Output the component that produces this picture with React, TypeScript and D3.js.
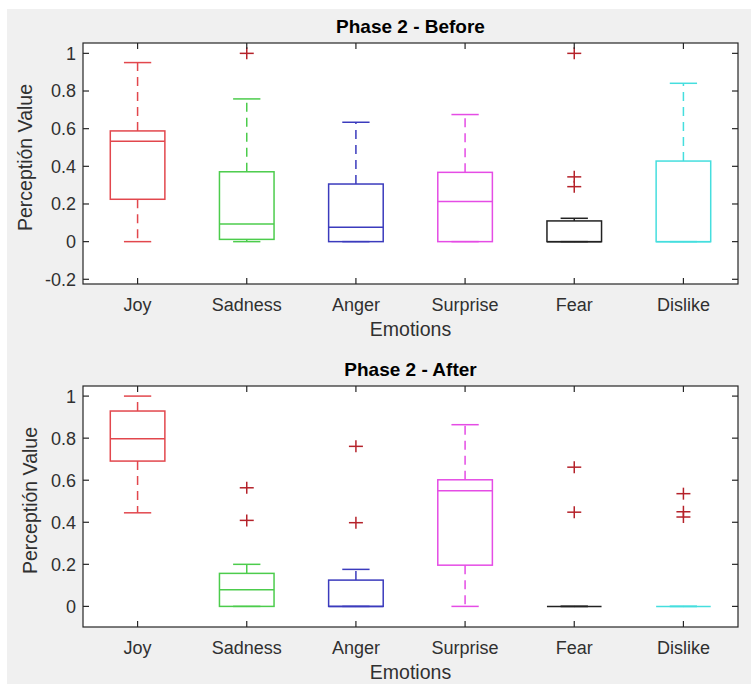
import React from 'react';
import * as d3 from 'd3';

const categories = ['Joy', 'Sadness', 'Anger', 'Surprise', 'Fear', 'Dislike'];
const boxColors = ['#e2474d', '#4ccc4c', '#3b3bbd', '#e54ce5', '#222222', '#45dede'];
const outlierColor = '#b5222a';

// Phase 2 - Before
const beforeLower = [0, 0, 0, 0, 0, 0];
const beforeQ1 = [0.225, 0.012, 0, 0, 0, 0];
const beforeMedian = [0.533, 0.094, 0.076, 0.213, 0, 0];
const beforeQ3 = [0.588, 0.371, 0.306, 0.368, 0.11, 0.428];
const beforeUpper = [0.951, 0.758, 0.634, 0.675, 0.124, 0.841];
const beforeOutliers = [[], [1.0], [], [], [1.0, 0.344, 0.292], []];
const beforeTicks = [-0.2, 0, 0.2, 0.4, 0.6, 0.8, 1];

// Phase 2 - After
const afterLower = [0.445, 0, 0, 0, 0, 0];
const afterQ1 = [0.691, 0, 0, 0.196, 0, 0];
const afterMedian = [0.797, 0.079, 0, 0.55, 0, 0];
const afterQ3 = [0.929, 0.157, 0.125, 0.602, 0, 0];
const afterUpper = [1.0, 0.2, 0.176, 0.864, 0, 0];
const afterOutliers = [[], [0.564, 0.409], [0.761, 0.398], [], [0.662, 0.448], [0.536, 0.45, 0.425]];
const afterTicks = [0, 0.2, 0.4, 0.6, 0.8, 1];

const FONT = '"Liberation Sans", Arial, Helvetica, sans-serif';
const AXIS = '#262626';
const TEXT = '#303030';

type PanelProps = {
  title: string;
  top: number;
  bottom: number;
  yDomain: [number, number];
  ticks: number[];
  lower: number[];
  q1: number[];
  median: number[];
  q3: number[];
  upper: number[];
  outliers: number[][];
  ylabelX: number;
};

function fmt(v: number): string {
  if (Math.abs(v) < 1e-9) return '0';
  const s = String(+v.toFixed(1));
  return s.replace('\u2212', '-');
}

function Panel(p: PanelProps) {
  const left = 83;
  const right = 738;
  const x = d3.scaleLinear().domain([0.5, categories.length + 0.5]).range([left, right]);
  const y = d3.scaleLinear().domain(p.yDomain).range([p.bottom, p.top]);
  const unit = x(2) - x(1);
  const boxHalf = unit * 0.25;
  const capHalf = unit * 0.125;
  const tickLen = 6;
  return (
    <g>
      <rect x={left} y={p.top} width={right - left} height={p.bottom - p.top} fill="#ffffff" />
      {categories.map((c, i) => {
        const cx = x(i + 1);
        const col = boxColors[i];
        return (
          <g key={c} stroke={col} strokeWidth={1.5} fill="none">
            <line x1={cx} x2={cx} y1={y(p.q3[i])} y2={y(p.upper[i])} strokeDasharray="9,6" />
            <line x1={cx} x2={cx} y1={y(p.q1[i])} y2={y(p.lower[i])} strokeDasharray="9,6" />
            <line x1={cx - capHalf} x2={cx + capHalf} y1={y(p.upper[i])} y2={y(p.upper[i])} />
            <line x1={cx - capHalf} x2={cx + capHalf} y1={y(p.lower[i])} y2={y(p.lower[i])} />
            <rect x={cx - boxHalf} width={boxHalf * 2} y={y(p.q3[i])} height={Math.max(0, y(p.q1[i]) - y(p.q3[i]))} />
            <line x1={cx - boxHalf} x2={cx + boxHalf} y1={y(p.median[i])} y2={y(p.median[i])} />
            {p.outliers[i].map((v, j) => (
              <g key={j} stroke={outlierColor} strokeWidth={1.5}>
                <line x1={cx - 7} x2={cx + 7} y1={y(v)} y2={y(v)} />
                <line x1={cx} x2={cx} y1={y(v) - 6} y2={y(v) + 6} />
              </g>
            ))}
          </g>
        );
      })}
      <rect x={left} y={p.top} width={right - left} height={p.bottom - p.top} fill="none" stroke={AXIS} strokeWidth={1.2} />
      {p.ticks.map((t) => (
        <g key={t}>
          <line x1={left} x2={left + tickLen} y1={y(t)} y2={y(t)} stroke={AXIS} strokeWidth={1.2} />
          <line x1={right} x2={right - tickLen} y1={y(t)} y2={y(t)} stroke={AXIS} strokeWidth={1.2} />
          <text x={left - 7} y={y(t)} dy="0.36em" textAnchor="end" fontSize={18} fill={TEXT} fontFamily={FONT}>
            {fmt(t)}
          </text>
        </g>
      ))}
      {categories.map((c, i) => (
        <g key={c}>
          <line x1={x(i + 1)} x2={x(i + 1)} y1={p.bottom} y2={p.bottom - tickLen} stroke={AXIS} strokeWidth={1.2} />
          <line x1={x(i + 1)} x2={x(i + 1)} y1={p.top} y2={p.top + tickLen} stroke={AXIS} strokeWidth={1.2} />
          <text x={x(i + 1)} y={p.bottom + 27} textAnchor="middle" fontSize={18} fill={TEXT} fontFamily={FONT}>
            {c}
          </text>
        </g>
      ))}
      <text x={(left + right) / 2} y={p.bottom + 52} textAnchor="middle" fontSize={19.5} fill={TEXT} fontFamily={FONT}>
        Emotions
      </text>
      <text
        transform={`translate(${p.ylabelX},${(p.top + p.bottom) / 2 - 6}) rotate(-90)`}
        textAnchor="middle"
        fontSize={19.5}
        fill={TEXT}
        fontFamily={FONT}
      >
        Perceptión Value
      </text>
      <text x={(left + right) / 2} y={p.top - 10} textAnchor="middle" fontSize={19} fontWeight="bold" fill="#000" fontFamily={FONT}>
        {p.title}
      </text>
    </g>
  );
}

export default function App() {
  return (
    <svg
      width={751}
      height={684}
      style={{ position: 'absolute', left: 0, top: 0, display: 'block' }}
      xmlns="http://www.w3.org/2000/svg"
    >
      <rect x={0} y={0} width={751} height={684} fill="#ffffff" />
      <rect x={7} y={9} width={744} height={675} fill="#f0f0f0" />
      <Panel
        title="Phase 2 - Before"
        top={43}
        bottom={284}
        yDomain={[-0.225, 1.055]}
        ticks={beforeTicks}
        lower={beforeLower}
        q1={beforeQ1}
        median={beforeMedian}
        q3={beforeQ3}
        upper={beforeUpper}
        outliers={beforeOutliers}
        ylabelX={32}
      />
      <Panel
        title="Phase 2 - After"
        top={386}
        bottom={627}
        yDomain={[-0.098, 1.048]}
        ticks={afterTicks}
        lower={afterLower}
        q1={afterQ1}
        median={afterMedian}
        q3={afterQ3}
        upper={afterUpper}
        outliers={afterOutliers}
        ylabelX={37}
      />
    </svg>
  );
}
